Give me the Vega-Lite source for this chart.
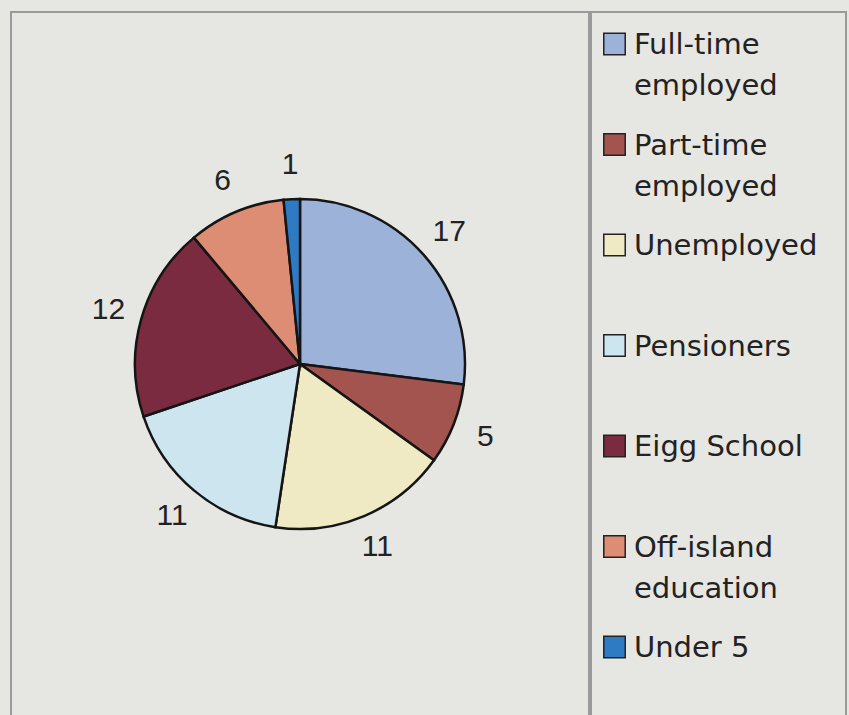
{
  "$schema": "https://vega.github.io/schema/vega-lite/v6.json",
  "background": "#e6e6e2",
  "padding": {"left": 10, "top": 11, "right": 4, "bottom": 0},
  "config": {
    "view": {"stroke": "#9a9a9a", "strokeWidth": 2},
    "concat": {"spacing": 0}
  },
  "datasets": {
    "eigg": [
      {"rank": 1, "category": "Full-time employed", "label": "Full-time\nemployed", "count": 17},
      {"rank": 2, "category": "Part-time employed", "label": "Part-time\nemployed", "count": 5},
      {"rank": 3, "category": "Unemployed", "label": "Unemployed", "count": 11},
      {"rank": 4, "category": "Pensioners", "label": "Pensioners", "count": 11},
      {"rank": 5, "category": "Eigg School", "label": "Eigg School", "count": 12},
      {"rank": 6, "category": "Off-island education", "label": "Off-island\neducation", "count": 6},
      {"rank": 7, "category": "Under 5", "label": "Under 5", "count": 1}
    ]
  },
  "hconcat": [
    {
      "width": 578,
      "height": 704,
      "view": {"stroke": "#9a9a9a", "strokeWidth": 2},
      "data": {"name": "eigg"},
      "encoding": {
        "theta": {"field": "count", "type": "quantitative", "stack": true},
        "order": {"field": "rank", "type": "quantitative", "sort": "ascending"}
      },
      "layer": [
        {
          "mark": {"type": "arc", "outerRadius": 165, "stroke": "#151515", "strokeWidth": 2.5},
          "encoding": {
            "color": {
              "field": "category",
              "type": "nominal",
              "sort": ["Full-time employed", "Part-time employed", "Unemployed", "Pensioners", "Eigg School", "Off-island education", "Under 5"],
              "scale": {
                "domain": ["Full-time employed", "Part-time employed", "Unemployed", "Pensioners", "Eigg School", "Off-island education", "Under 5"],
                "range": ["#9db2d9", "#a3544f", "#efeac3", "#cde5ef", "#7a2b3f", "#dd8d74", "#2e7bc4"]
              },
              "legend": null
            }
          }
        },
        {
          "mark": {"type": "text", "radius": 199, "fontSize": 30, "font": "Liberation Sans", "fill": "#222222", "align": "center", "baseline": "middle"},
          "encoding": {
            "text": {"field": "count", "type": "quantitative"}
          }
        }
      ]
    },
    {
      "width": 255,
      "height": 704,
      "data": {"name": "eigg"},
      "encoding": {
        "y": {
          "field": "category",
          "type": "nominal",
          "sort": null,
          "scale": {"type": "point", "padding": 0.5025, "align": 0.317},
          "axis": null
        }
      },
      "layer": [
        {
          "mark": {"type": "square", "size": 460, "stroke": "#222222", "strokeWidth": 1.5, "opacity": 1, "filled": true},
          "encoding": {
            "x": {"value": 23.5},
            "color": {
              "field": "category",
              "type": "nominal",
              "sort": ["Full-time employed", "Part-time employed", "Unemployed", "Pensioners", "Eigg School", "Off-island education", "Under 5"],
              "scale": {
                "domain": ["Full-time employed", "Part-time employed", "Unemployed", "Pensioners", "Eigg School", "Off-island education", "Under 5"],
                "range": ["#9db2d9", "#a3544f", "#efeac3", "#cde5ef", "#7a2b3f", "#dd8d74", "#2e7bc4"]
              },
              "legend": null
            }
          }
        },
        {
          "mark": {"type": "text", "align": "left", "baseline": "alphabetic", "dy": 10, "lineBreak": "\n", "lineHeight": 41, "fontSize": 29, "font": "DejaVu Sans", "fill": "#222222"},
          "encoding": {
            "x": {"value": 43},
            "text": {"field": "label", "type": "nominal"}
          }
        }
      ]
    }
  ]
}
